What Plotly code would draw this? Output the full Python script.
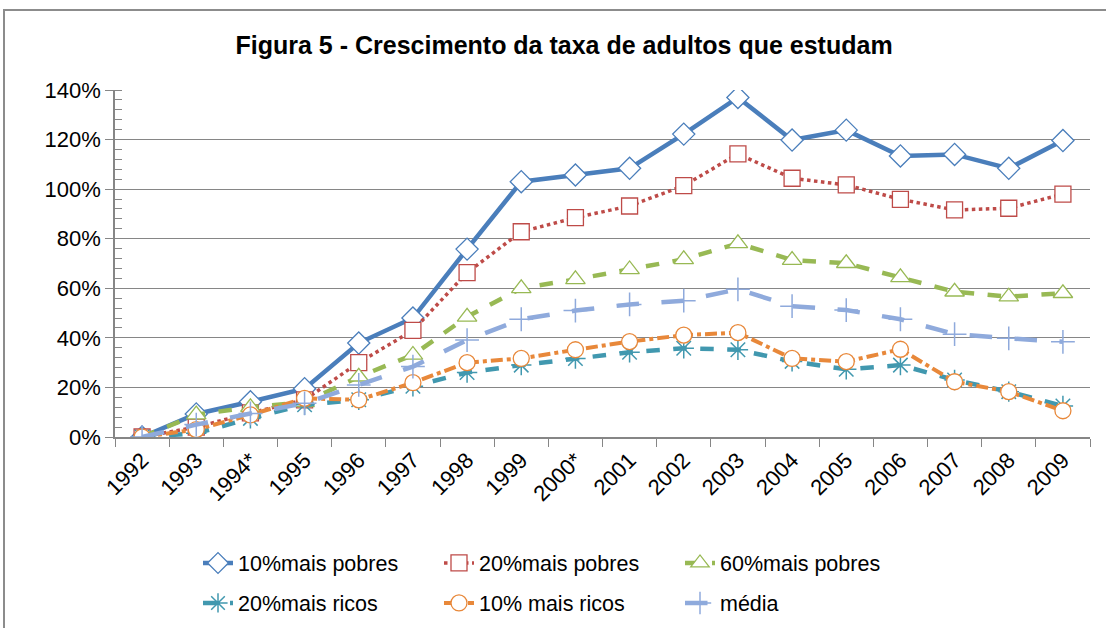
import plotly.graph_objects as go

years = ["1992", "1993", "1994*", "1995", "1996", "1997", "1998", "1999", "2000*",
         "2001", "2002", "2003", "2004", "2005", "2006", "2007", "2008", "2009"]

pobres10 = [0, 9.3, 14.2, 19.5, 37.9, 48.0, 75.8, 103.0, 105.7, 108.4, 122.2, 137.0,
            119.8, 123.8, 113.4, 114.0, 108.4, 119.6]
pobres20 = [0, 4, 9.7, 15, 30.0, 43.0, 66.3, 82.8, 88.5, 93.2, 101.4, 114.2,
            104.4, 101.7, 95.9, 91.6, 92.3, 98.0]
pobres60 = [0, 9, 12, 14, 24.3, 33.1, 48.5, 60.0, 63.6, 67.6, 71.7, 78.1,
            71.4, 70.1, 64.4, 58.6, 56.6, 58.0]
ricos20 = [0, 1.5, 7.5, 13, 15, 20.5, 26, 29, 31.7, 34.2, 35.8, 35.2,
           30.5, 27.3, 29, 23, 18.3, 12.5]
ricos10 = [0, 3, 8.9, 15.6, 15, 21.9, 30, 31.7, 35.2, 38.5, 41.1, 42.1,
           31.7, 30.4, 35.4, 22.3, 18.3, 10.6]
media = [0, 5, 9.5, 13.6, 21, 28.4, 39.1, 47.5, 51, 53.5, 55, 59.6,
         52.8, 51.2, 47.5, 41.5, 39.8, 38.4]

series = [
    ("10%mais pobres", pobres10, "#4a7ebb", "solid", 4.5, "diamond", 17, "legend"),
    ("20%mais pobres", pobres20, "#be4b48", "dot", 3.5, "square", 16, "legend"),
    ("60%mais pobres", pobres60, "#98b954", "dash", 4.5, "triangle-up", 17, "legend"),
    ("20%mais ricos", ricos20, "#4198af", "dash", 4.5, "asterisk-open", 17, "legend2"),
    ("10% mais ricos", ricos10, "#e8883a", "dashdot", 4, "circle", 16, "legend2"),
    ("média", media, "#8faadc", "longdash", 4.5, "cross-thin-open", 17, "legend2"),
]

FONT = "Liberation Sans, Arial, sans-serif"

fig = go.Figure()
for name, vals, col, dash, w, sym, sz, lg in series:
    if sym.endswith("-open"):
        marker = dict(symbol=sym, size=sz, color=col, line=dict(color=col, width=1.5))
    else:
        marker = dict(symbol=sym, size=sz, color="white", line=dict(color=col, width=1.3))
    fig.add_trace(go.Scatter(
        x=years, y=vals, name=name, mode="lines+markers",
        line=dict(color=col, dash=dash, width=w),
        marker=marker, legend=lg,
    ))

legend_common = dict(orientation="h", xref="container", yref="container",
                     xanchor="left", yanchor="middle", entrywidth=196,
                     font=dict(size=21.5), bgcolor="rgba(0,0,0,0)")

fig.update_layout(
    width=1106, height=628,
    margin=dict(l=115, r=16, t=90, b=191, autoexpand=False),
    paper_bgcolor="white", plot_bgcolor="white",
    font=dict(family=FONT, size=21, color="#000000"),
    title=dict(text="<b>Figura 5 - Crescimento da taxa de adultos que estudam</b>",
               x=0.51, xanchor="center", y=0.928, yanchor="middle",
               font=dict(family=FONT, size=25, color="#000000")),
    legend=dict(x=198 / 1106, y=1 - 563 / 628, **legend_common),
    legend2=dict(x=198 / 1106, y=1 - 603 / 628, **legend_common),
    showlegend=True,
)

fig.update_xaxes(
    type="category", showgrid=False, showline=True, linecolor="#868686", linewidth=1.5,
    ticks="outside", tickson="boundaries", ticklen=8, tickcolor="#868686",
    tickangle=-45, tickfont=dict(size=22), range=[-0.5, 17.5], automargin=False,
)
fig.update_yaxes(
    range=[0, 140], dtick=20, ticksuffix="%", showgrid=True, gridcolor="#868686",
    gridwidth=1, showline=True, linecolor="#868686", linewidth=1.5,
    ticks="outside", ticklen=8, tickcolor="#868686", tickfont=dict(size=22),
    zeroline=False, automargin=False,
    minor=dict(dtick=4, ticks="inside", ticklen=7, tickcolor="#868686", showgrid=False),
)

# chart outer border
fig.add_shape(type="rect", xref="paper", yref="paper",
              x0=(4 - 115) / 975, x1=(1112 - 115) / 975,
              y0=(437 - 640) / 347, y1=(437 - 10) / 347,
              line=dict(color="#8c8c8c", width=2), fillcolor="rgba(0,0,0,0)", layer="below")

fig.write_html("out.html", config={"displayModeBar": False},
               post_script="document.body.style.margin='0px';document.body.style.overflow='hidden';")
